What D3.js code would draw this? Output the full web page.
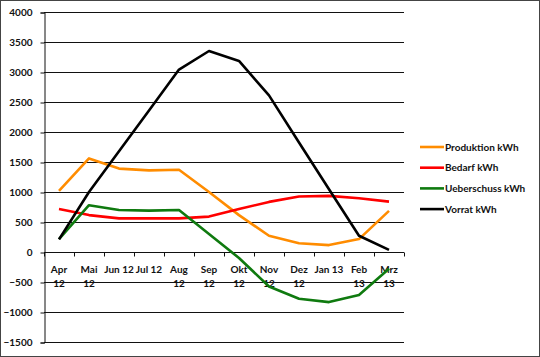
<!DOCTYPE html>
<html><head><meta charset="utf-8">
<script src="https://cdn.jsdelivr.net/npm/d3@7"></script>
<style>body{margin:0;background:#fff}svg{display:block}</style>
</head><body>
<script>
const categories = ["Apr 12","Mai 12","Jun 12","Jul 12","Aug 12","Sep 12","Okt 12","Nov 12","Dez 12","Jan 13","Feb 13","Mrz 13"];
// label lines as shown (some wrapped onto two lines)
const catLabels = [["Apr","12"],["Mai","12"],["Jun 12"],["Jul 12"],["Aug","12"],["Sep","12"],["Okt","12"],["Nov","12"],["Dez","12"],["Jan 13"],["Feb","13"],["Mrz","13"]];
const produktion = [1020,1560,1390,1360,1370,1000,615,270,145,115,215,685];
const bedarf = [715,615,560,560,560,590,715,835,925,935,895,840];
const ueberschuss = [215,780,700,690,700,300,-100,-575,-780,-835,-715,-280];
const vorrat = [210,1000,1680,2360,3040,3350,3185,2610,1825,1045,270,35];
const yTicks = [4000,3500,3000,2500,2000,1500,1000,500,0,-500,-1000,-1500];
const seriesNames = ["Produktion kWh","Bedarf kWh","Ueberschuss kWh","Vorrat kWh"];
const seriesColors = ["#FF8C00","#FF0000","#0F7A0F","#000000"];
const seriesData = [produktion, bedarf, ueberschuss, vorrat];

const W = 540, H = 357;
const svg = d3.select("body").append("svg").attr("width", W).attr("height", H);
const font = "Lato, 'Open Sans', sans-serif";

svg.append("rect").attr("x",0.5).attr("y",0.5).attr("width",W-1).attr("height",H-1)
  .attr("fill","#fff").attr("stroke","#444").attr("stroke-width",1);

const x0 = 44, x1 = 404;
const x = d3.scaleBand().domain(categories).range([x0, x1]);
const y = d3.scaleLinear().domain([-1500, 4000]).range([342, 12]);

// gridlines
svg.append("g").selectAll("line").data(yTicks).join("line")
  .attr("x1", x0).attr("x2", x1)
  .attr("y1", d => Math.round(y(d)) + 0.5).attr("y2", d => Math.round(y(d)) + 0.5)
  .attr("stroke", "#111").attr("stroke-width", 1);

// y axis
const yAxis = d3.axisLeft(y).tickValues(yTicks).tickSize(4).tickPadding(5).tickFormat(d3.format("d"));
const gy = svg.append("g").attr("transform", `translate(${x0+0.5},0.5)`).call(yAxis);
gy.select(".domain").attr("stroke","#111");
gy.selectAll(".tick line").attr("stroke","#111");
gy.selectAll(".tick text").attr("font-family", font).attr("font-weight","bold")
  .attr("font-size", 10).attr("fill","#111").attr("dx", -3);

// x axis on zero line
const y0 = Math.round(y(0)) + 0.5;
svg.append("line").attr("x1", x0).attr("x2", x1).attr("y1", y0).attr("y2", y0).attr("stroke","#111");
const bounds = categories.map((c,i) => x(c) + x.bandwidth()).slice(0, -1).concat([x1]);
svg.append("g").selectAll("line").data([x0].concat(bounds)).join("line")
  .attr("x1", d => Math.round(d)+0.5).attr("x2", d => Math.round(d)+0.5)
  .attr("y1", y0).attr("y2", y0 + 4).attr("stroke","#111");

const lab = svg.append("g").selectAll("text").data(categories).join("text")
  .attr("x", d => x(d) + x.bandwidth()/2).attr("y", 273)
  .attr("text-anchor","middle").attr("font-family", font).attr("font-weight","bold")
  .attr("font-size", 10).attr("fill","#111");
lab.each(function(d, i){
  const t = d3.select(this);
  catLabels[i].forEach((s, k) => {
    t.append("tspan").attr("x", x(d) + x.bandwidth()/2).attr("dy", k === 0 ? 0 : 13.5).text(s);
  });
});

// lines
const line = d3.line().x((d,i) => x(categories[i]) + x.bandwidth()/2).y(d => y(d));
seriesData.forEach((data, s) => {
  svg.append("path").datum(data).attr("d", line).attr("fill","none")
    .attr("stroke", seriesColors[s]).attr("stroke-width", 2.6).attr("stroke-linejoin","round");
});

// legend
const lg = svg.append("g");
seriesNames.forEach((n, i) => {
  const ly = 147 + i * 20.7;
  lg.append("line").attr("x1", 420).attr("x2", 444).attr("y1", ly).attr("y2", ly)
    .attr("stroke", seriesColors[i]).attr("stroke-width", 2.6);
  lg.append("text").attr("x", 445).attr("y", ly + 3.5).text(n)
    .attr("font-family", font).attr("font-weight","bold").attr("font-size", 10).attr("fill","#111");
});
</script>
</body></html>
